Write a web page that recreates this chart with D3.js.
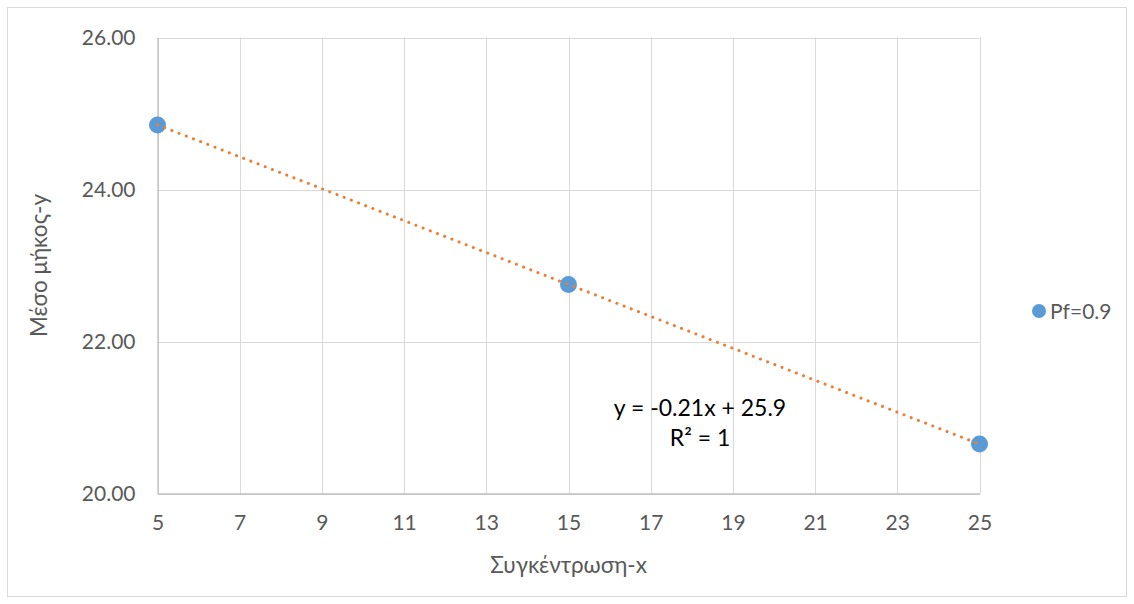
<!DOCTYPE html>
<html>
<head>
<meta charset="utf-8">
<script src="https://cdn.jsdelivr.net/npm/d3@7"></script>
<style>
  html, body { margin: 0; padding: 0; background: #fff; }
  svg { display: block; font-family: Lato, "Open Sans", "Liberation Sans", sans-serif; }
</style>
</head>
<body>
<svg id="chart" width="1134" height="604"></svg>
<script>
// Measurements: concentration (x) vs mean length (y)
const concentrations = [5, 15, 25];
const meanLengths = [24.85, 22.75, 20.65];
const seriesName = "Pf=0.9";
const xTicks = [5, 7, 9, 11, 13, 15, 17, 19, 21, 23, 25];
const yTicks = [20, 22, 24, 26];
const trendSlope = -0.21;
const trendIntercept = 25.9;
const equationLines = ["y = -0.21x + 25.9", "R² = 1"];

const svg = d3.select("#chart");
const W = 1134, H = 604;
const FONT = "Lato, 'Open Sans', 'Liberation Sans', sans-serif";

// Outer chart frame
svg.append("rect")
  .attr("x", 7.5).attr("y", 7.5)
  .attr("width", W - 15).attr("height", H - 15)
  .attr("fill", "#fff").attr("stroke", "#d9d9d9").attr("stroke-width", 1);

const plot = { left: 157.5, right: 979.5, top: 37.5, bottom: 493.5 };

const x = d3.scaleLinear().domain([5, 25]).range([plot.left, plot.right]);
const y = d3.scaleLinear().domain([20, 26]).range([plot.bottom, plot.top]);

// Gridlines
const grid = svg.append("g");
grid.selectAll("line.v").data(xTicks).join("line")
  .attr("x1", d => Math.round(x(d)) + 0.5).attr("x2", d => Math.round(x(d)) + 0.5)
  .attr("y1", plot.top).attr("y2", plot.bottom)
  .attr("stroke", "#d9d9d9").attr("stroke-width", 1);
grid.selectAll("line.h").data(yTicks).join("line")
  .attr("x1", plot.left).attr("x2", plot.right)
  .attr("y1", d => Math.round(y(d)) + 0.5).attr("y2", d => Math.round(y(d)) + 0.5)
  .attr("stroke", "#d9d9d9").attr("stroke-width", 1);

// Axes
const xAxis = svg.append("g")
  .attr("transform", `translate(0,${plot.bottom})`)
  .call(d3.axisBottom(x).tickValues(xTicks).tickSize(0).tickPadding(22).tickFormat(d3.format("d")));
const yAxis = svg.append("g")
  .attr("transform", `translate(${plot.left},0)`)
  .call(d3.axisLeft(y).tickValues(yTicks).tickSize(0).tickPadding(22).tickFormat(d3.format(".2f")));
[xAxis, yAxis].forEach(a => {
  a.select(".domain").attr("stroke", "#bfbfbf").attr("stroke-width", 1.3);
  a.selectAll("text").attr("fill", "#595959").style("font-size", "21px")
    .style("font-family", FONT);
});

// Axis titles
svg.append("text")
  .attr("x", (plot.left + plot.right) / 2).attr("y", 573)
  .attr("text-anchor", "middle").attr("fill", "#595959")
  .style("font-size", "22.5px").text("Συγκέντρωση-x");
svg.append("text")
  .attr("transform", `translate(47,${(plot.top + plot.bottom) / 2}) rotate(-90)`)
  .attr("text-anchor", "middle").attr("fill", "#595959")
  .style("font-size", "22.5px").text("Μέσο μήκος-y");

// Data points
const pts = concentrations.map((c, i) => ({ x: c, y: meanLengths[i] }));
svg.append("g").selectAll("circle").data(pts).join("circle")
  .attr("cx", d => x(d.x)).attr("cy", d => y(d.y)).attr("r", 8.5)
  .attr("fill", "#5b9bd5");

// Linear trendline
const xDom = x.domain();
const trend = xDom.map(v => ({ x: v, y: trendSlope * v + trendIntercept }));
svg.append("path")
  .datum(trend)
  .attr("d", d3.line().x(d => x(d.x)).y(d => y(d.y)))
  .attr("fill", "none").attr("stroke", "#ed7d31")
  .attr("stroke-width", 3).attr("stroke-linecap", "round")
  .attr("stroke-dasharray", "0.1 7.6");

// Trendline equation
const eq = svg.append("text").attr("text-anchor", "middle").attr("fill", "#000")
  .style("font-size", "23px");
equationLines.forEach((t, i) => {
  eq.append("tspan").attr("x", 700).attr("y", 416 + i * 30).text(t);
});

// Legend
const lg = svg.append("g").attr("transform", "translate(1039,311)");
lg.append("circle").attr("r", 7).attr("fill", "#5b9bd5");
lg.append("text").attr("x", 11).attr("y", 7.5).attr("fill", "#595959")
  .style("font-size", "21px").text(seriesName);
</script>
</body>
</html>
